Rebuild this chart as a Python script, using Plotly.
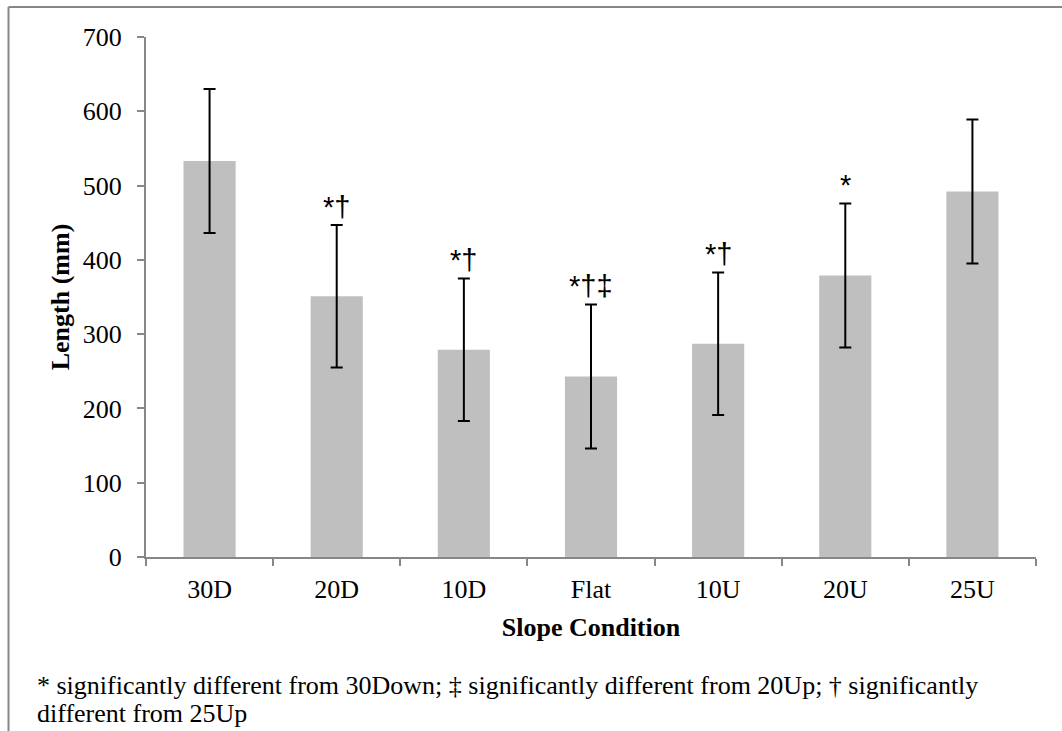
import plotly.graph_objects as go

categories = ["30D", "20D", "10D", "Flat", "10U", "20U", "25U"]
lengths = [533, 351, 279, 243, 287, 379, 492]
errors = [97, 96, 96, 97, 96, 97, 97]
marks = ["", "*†", "*†", "*†‡", "*†", "*", ""]
y_ticks = [0, 100, 200, 300, 400, 500, 600, 700]
footnote_lines = [
    "* significantly different from 30Down; ‡ significantly different from 20Up; † significantly",
    "different from 25Up",
]

serif = "Liberation Serif"
axis_grey = "#878787"
fs = 26

fig = go.Figure()
fig.add_trace(go.Bar(
    x=categories, y=lengths,
    marker=dict(color="#BFBFBF", line=dict(width=0)),
    error_y=dict(type="data", array=errors, visible=True, color="black", thickness=2, width=6),
    showlegend=False,
))

for c, v, e, m in zip(categories, lengths, errors, marks):
    if m:
        fig.add_annotation(x=c, y=v + e, text=m, showarrow=False, yanchor="bottom", yshift=0,
                           font=dict(family="Liberation Sans", size=29, color="black"))

for yy, line in zip([-0.2462, -0.300], footnote_lines):
    fig.add_annotation(xref="paper", yref="paper", x=-0.1247, y=yy, xanchor="left", yanchor="middle",
                       align="left", text=line, showarrow=False,
                       font=dict(family=serif, size=fs, color="black"))

# chart border (top and left edges)
fig.add_shape(type="line", xref="paper", yref="paper", x0=-0.1545, x1=1.03, y0=1.0577, y1=1.0577,
              line=dict(color=axis_grey, width=2))
fig.add_shape(type="line", xref="paper", yref="paper", x0=-0.1545, x1=-0.1545, y0=1.0577, y1=-0.35,
              line=dict(color=axis_grey, width=2))

fig.update_layout(
    width=1062, height=731,
    margin=dict(l=146, r=26, t=37, b=174),
    paper_bgcolor="white", plot_bgcolor="white",
    bargap=0.59,
    font=dict(family=serif, size=fs, color="black"),
    xaxis=dict(
        showline=True, linecolor=axis_grey, linewidth=2,
        ticks="outside", tickson="boundaries", ticklen=7, tickcolor=axis_grey, tickwidth=2,
        ticklabelstandoff=8,
        tickfont=dict(family=serif, size=fs, color="black"),
        title=dict(text="<b>Slope Condition</b>", font=dict(family=serif, size=fs, color="black"), standoff=15),
        showgrid=False, zeroline=False,
    ),
    yaxis=dict(
        range=[0, 700], tickvals=y_ticks,
        showline=True, linecolor=axis_grey, linewidth=2,
        ticks="outside", ticklen=7, tickcolor=axis_grey, tickwidth=2,
        ticklabelstandoff=10,
        tickfont=dict(family=serif, size=fs, color="black"),
        title=dict(text="<b>Length (mm)</b>", font=dict(family=serif, size=fs, color="black"), standoff=6),
        showgrid=False, zeroline=False,
    ),
)

fig.write_html("out.html")
